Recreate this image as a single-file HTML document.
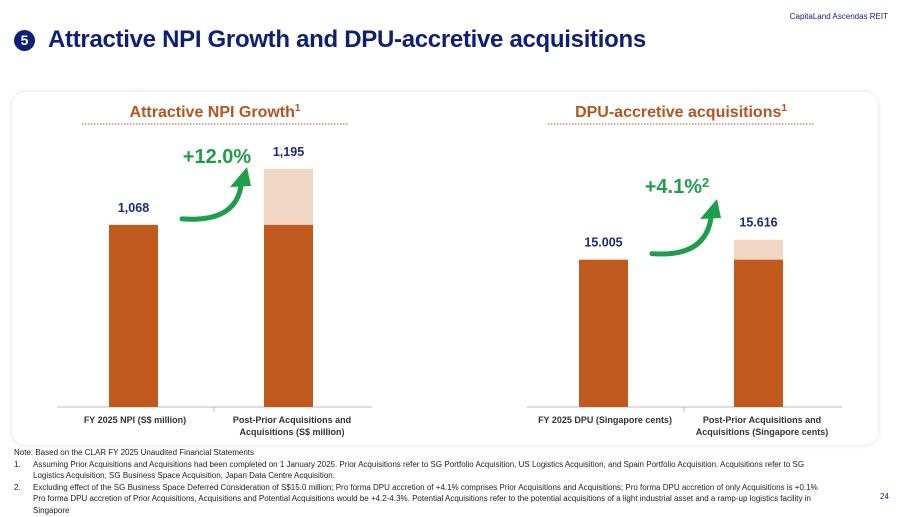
<!DOCTYPE html>
<html><head><meta charset="utf-8"><style>
body{margin:0;width:900px;height:512px;background:#fff;font-family:"Liberation Sans",sans-serif;overflow:hidden;position:relative}
.abs{position:absolute}
.title{left:48px;top:26px;font-size:24px;font-weight:bold;color:#0f1f78;letter-spacing:-0.3px}
.num{left:14px;top:30px;width:21px;height:21px;border-radius:50%;background:#0f1f78;color:#fff;font-size:14px;font-weight:bold;text-align:center;line-height:21px}
.brand{right:12px;top:12px;font-size:8px;color:#0f1f78}
.card{left:12px;top:92px;width:866px;height:353px;border-radius:14px;box-shadow:0 0 6px rgba(0,0,0,0.12);background:#fff}
.notes{left:14px;top:447px;font-size:8px;color:#222;line-height:11.6px;white-space:nowrap}
.notes div{position:relative;padding-left:19px}
.notes span{position:absolute;left:0}
</style></head><body>
<div class="abs brand">CapitaLand Ascendas REIT</div>
<div class="abs num">5</div>
<div class="abs title">Attractive NPI Growth and DPU-accretive acquisitions</div>
<div class="abs card"></div>
<svg class="abs" style="left:0;top:0" width="900" height="512" id="svg"></svg>
<div class="abs notes">
<div style="padding-left:0">Note: Based on the CLAR FY 2025 Unaudited Financial Statements</div>
<div><span>1.</span>Assuming Prior Acquisitions and Acquisitions had been completed on 1 January 2025. Prior Acquisitions refer to SG Portfolio Acquisition, US Logistics Acquisition, and Spain Portfolio Acquisition. Acquisitions refer to SG<br>Logistics Acquisition, SG Business Space Acquisition, Japan Data Centre Acquisition.</div>
<div><span>2.</span>Excluding effect of the SG Business Space Deferred Consideration of S$15.0 million; Pro forma DPU accretion of +4.1% comprises Prior Acquisitions and Acquisitions; Pro forma DPU accretion of only Acquisitions is +0.1%<br>Pro forma DPU accretion of Prior Acquisitions, Acquisitions and Potential Acquisitions would be +4.2-4.3%. Potential Acquisitions refer to the potential acquisitions of a light industrial asset and a ramp-up logistics facility in<br>Singapore</div>
</div>
<div class="abs" style="left:880px;top:492px;font-size:8px;color:#0f1f78">24</div>
<script>
const npiCategories=["FY 2025 NPI (S$ million)","Post-Prior Acquisitions and|Acquisitions (S$ million)"];
const npiBase=[1068,1068];
const npiTotal=[1068,1195];
const npiLabels=["1,068","1,195"];
const dpuCategories=["FY 2025 DPU (Singapore cents)","Post-Prior Acquisitions and|Acquisitions (Singapore cents)"];
const dpuBase=[15.005,15.005];
const dpuTotal=[15.005,15.616];
const dpuLabels=["15.005","15.616"];
const svg=document.getElementById('svg');
const NS='http://www.w3.org/2000/svg';
function mk(t,a,txt){const e=document.createElementNS(NS,t);for(const k in a)e.setAttribute(k,a[k]);if(txt!==undefined)e.textContent=txt;svg.appendChild(e);return e;}
function chart(o){
  const base=407;
  const y=v=>base-(v-o.min)*o.scale;
  const t=mk('text',{x:o.cx,y:117,'text-anchor':'middle','font-size':16,'font-weight':'bold',fill:'#b5541c'},o.title);
  
  
  const s=mk('tspan',{dy:-6,'font-size':10},'1');
  t.appendChild(s);
  const u=mk('line',{x1:o.cx-133,x2:o.cx+133,y1:124,y2:124,stroke:'#b5541c','stroke-dasharray':'1.5,1.5','stroke-width':1});
  
  
  const ax=mk('line',{x1:o.x0,x2:o.x0+315,y1:base,y2:base,stroke:'#bbb','stroke-width':1});
  
  
  mk('line',{x1:o.x0+157,x2:o.x0+157,y1:base,y2:base+5,stroke:'#bbb'});
  o.cats.forEach((c,i)=>{
    const bx=o.x0+52+i*155,w=49;
    const top=y(o.total[i]),mid=y(o.base[i]);
    if(o.total[i]>o.base[i]){
      const l=mk('rect',{x:bx,y:top,width:w,height:mid-top,fill:'#f1d6c6'});
      
      
    }
    const r=mk('rect',{x:bx,y:mid,width:w,height:base-mid,fill:'#c05a1e'});
    
    
    const v=mk('text',{x:bx+w/2,y:top-13,'text-anchor':'middle','font-size':12.5,'font-weight':'bold',fill:'#1b2a78'},o.labels[i]);
    
    
    c.split('|').forEach((ln,j)=>{
      const tl=mk('text',{x:o.x0+78+i*157,y:423+j*12,'text-anchor':'middle','font-size':9,'font-weight':'bold',fill:'#333'},ln);
      
      
    });
  });
  const ax1=o.x0+125,ay1=y(o.base[0])-6,ax2=o.x0+188,ay2=o.arrowTop;
  const p=mk('path',{d:`M${ax1},${ay1} Q${ax2-10},${ay1+4} ${ax2-4},${ay2+16}`,stroke:'#1f9e4a','stroke-width':5,fill:'none','stroke-linecap':'round'});
  
  
  const h=mk('polygon',{points:`${ax2-15},${ay2+17} ${ax2+6},${ay2+16} ${ax2+2},${ay2-3}`,fill:'#1f9e4a'});
  
  
  const g=mk('text',{x:o.gx,y:o.gy,'text-anchor':'middle','font-size':20,'font-weight':'bold',fill:'#1f9e4a'},o.growth);
  
  
  if(o.sup){const ss=mk('tspan',{dy:-6,'font-size':13},o.sup);g.appendChild(ss);}
}
chart({id:'npi',cx:215,x0:57,min:655,scale:0.441,cats:npiCategories,base:npiBase,total:npiTotal,labels:npiLabels,title:'Attractive NPI Growth',growth:'+12.0%',gx:217,gy:163,arrowTop:170});
chart({id:'dpu',cx:681,x0:527,min:10.5,scale:32.7,cats:dpuCategories,base:dpuBase,total:dpuTotal,labels:dpuLabels,title:'DPU-accretive acquisitions',growth:'+4.1%',sup:'2',gx:677,gy:193,arrowTop:202});
</script>
</body></html>
